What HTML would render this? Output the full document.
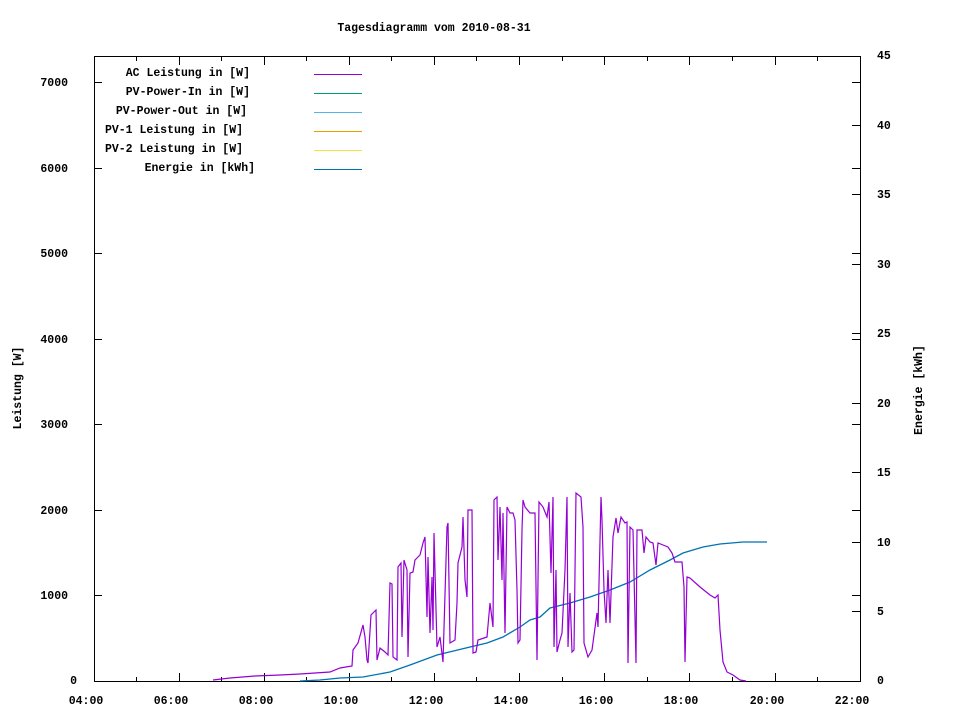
<!DOCTYPE html>
<html><head><meta charset="utf-8"><style>
html,body{margin:0;padding:0;background:#fff;}
svg{display:block;}
text{font-family:"Liberation Mono",monospace;font-weight:bold;font-size:11.5px;fill:#000;}
</style></head><body>
<svg width="960" height="720" viewBox="0 0 960 720" xmlns="http://www.w3.org/2000/svg">
<rect width="960" height="720" fill="#fff"/>
<text x="434" y="31" text-anchor="middle">Tagesdiagramm vom 2010-08-31</text>
<g stroke="#000" stroke-width="1" fill="none" shape-rendering="crispEdges">
<rect x="94.5" y="56.5" width="766" height="625"/>
<path d="M94.5 681v-8M179.5 681v-8M264.5 681v-8M349.5 681v-8M434.5 681v-8M519.5 681v-8M604.5 681v-8M689.5 681v-8M775.5 681v-8M94.5 57v8M179.5 57v8M264.5 57v8M349.5 57v8M434.5 57v8M519.5 57v8M604.5 57v8M689.5 57v8M775.5 57v8"/>
<path d="M136.5 681v-4M221.5 681v-4M306.5 681v-4M391.5 681v-4M476.5 681v-4M562.5 681v-4M647.5 681v-4M732.5 681v-4M817.5 681v-4M136.5 57v4M221.5 57v4M306.5 57v4M391.5 57v4M476.5 57v4M562.5 57v4M647.5 57v4M732.5 57v4M817.5 57v4"/>
<path d="M94 595.5h8M94 510.5h8M94 424.5h8M94 339.5h8M94 253.5h8M94 168.5h8M94 82.5h8"/>
<path d="M860 611.5h-8M860 542.5h-8M860 472.5h-8M860 403.5h-8M860 333.5h-8M860 264.5h-8M860 194.5h-8M860 125.5h-8M860 595.5h-8M860 510.5h-8M860 424.5h-8M860 339.5h-8M860 253.5h-8M860 168.5h-8M860 82.5h-8"/>
</g>
<g text-anchor="end">
<text x="77" y="684">0</text><text x="68" y="599">1000</text><text x="68" y="514">2000</text><text x="68" y="428">3000</text><text x="68" y="343">4000</text><text x="68" y="257">5000</text><text x="68" y="172">6000</text><text x="68" y="86">7000</text>
</g>
<g text-anchor="start">
<text x="877" y="684">0</text><text x="877" y="615">5</text><text x="877" y="546">10</text><text x="877" y="476">15</text><text x="877" y="407">20</text><text x="877" y="337">25</text><text x="877" y="268">30</text><text x="877" y="198">35</text><text x="877" y="129">40</text><text x="877" y="59">45</text>
</g>
<g text-anchor="middle">
<text x="86" y="704">04:00</text><text x="171" y="704">06:00</text><text x="256" y="704">08:00</text><text x="341" y="704">10:00</text><text x="426" y="704">12:00</text><text x="511" y="704">14:00</text><text x="596" y="704">16:00</text><text x="681" y="704">18:00</text><text x="767" y="704">20:00</text><text x="852" y="704">22:00</text>
</g>
<text transform="translate(21,388) rotate(-90)" text-anchor="middle">Leistung [W]</text>
<text transform="translate(922,390) rotate(-90)" text-anchor="middle">Energie [kWh]</text>
<g text-anchor="end">
<text x="250" y="76">AC Leistung in [W]</text>
<text x="250" y="95">PV-Power-In in [W]</text>
<text x="247" y="114">PV-Power-Out in [W]</text>
<text x="243" y="133">PV-1 Leistung in [W]</text>
<text x="243" y="152">PV-2 Leistung in [W]</text>
<text x="255" y="171">Energie in [kWh]</text>
</g>
<g stroke-width="1" shape-rendering="crispEdges">
<path d="M314 74.5h48" stroke="#9400d3"/>
<path d="M314 93.5h48" stroke="#009e73"/>
<path d="M314 112.5h48" stroke="#56b4e9"/>
<path d="M314 131.5h48" stroke="#e69f00"/>
<path d="M314 150.5h48" stroke="#f0e442"/>
<path d="M314 169.5h48" stroke="#0072b2"/>
</g>
<polyline fill="none" stroke="#0072b2" stroke-width="1.3" points="300,681 320,680 340,678 363,677 390,672 410,665 437,655 470,647 487,643 503,637 520,627 530,620 540,617 550,608 570,603 590,597 610,590 630,582 650,570 670,560 683,553 703,547 720,544 743,542 767,542"/>
<polyline fill="none" stroke="#9400d3" stroke-width="1.2" points="213,680 230,678 255,676 280,675 300,674 330,672 340,668 352,666 353,650 358,643 363,625 365,637 367,660 368,663 371,615 376,610 377,660 380,648 385,652 388,655 390,583 392,584 393,657 397,660 398,567 401,563 402,637 404,560 407,570 408,657 410,573 413,572 415,560 420,555 423,543 425,537 427,617 428,557 430,633 432,577 433,630 434,533 437,647 440,637 443,662 447,527 448,523 450,643 455,640 457,603 458,563 462,547 463,517 465,580 467,597 468,510 472,510 473,653 476,652 478,640 487,637 490,603 493,627 494,500 497,497 498,560 500,507 502,580 503,513 505,633 507,507 510,513 513,513 515,520 517,590 518,643 520,640 522,530 523,500 525,507 530,513 535,513 537,660 539,502 543,507 547,517 549,502 551,573 553,497 554,647 556,570 557,652 560,640 562,633 565,570 567,497 568,647 570,593 572,652 574,650 576,493 581,497 583,527 584,643 588,657 592,650 597,613 598,627 601,497 602,520 604,590 606,623 608,570 610,623 613,537 616,518 618,533 621,517 625,523 627,522 628,663 630,527 633,530 636,663 637,530 642,530 644,553 646,537 650,542 653,543 656,565 658,543 663,545 668,547 672,553 675,562 682,562 684,587 685,662 687,577 690,578 700,587 710,595 715,598 718,595 720,630 723,662 727,672 733,675 740,680 746,681"/>
</svg>
</body></html>
